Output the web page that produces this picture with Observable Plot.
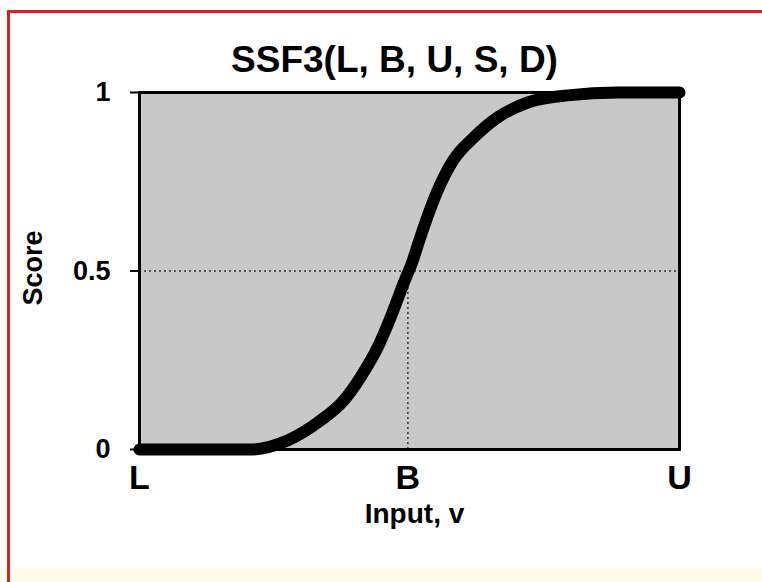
<!DOCTYPE html>
<html>
<head>
<meta charset="utf-8">
<script src="https://cdn.jsdelivr.net/npm/d3@7"></script>
<script src="https://cdn.jsdelivr.net/npm/@observablehq/plot@0.6"></script>
<style>
  html, body { margin: 0; padding: 0; background: #fff; }
  #wrap { position: relative; width: 762px; height: 582px; overflow: hidden; background: #fff; }
  #border { position: absolute; left: 7px; top: 10px; width: 820px; height: 640px; border: 3px solid #e21b1b; box-sizing: border-box; }
  #strip { position: absolute; left: 0; right: 0; bottom: 0; height: 14px; background: #fdfbea; }
  #chart { position: absolute; left: 0; top: 0; }
</style>
</head>
<body>
<div id="wrap">
  <div id="strip"></div>
  <div id="border"></div>
  <div id="chart"></div>
</div>
<script>
// Data
const title = "SSF3(L, B, U, S, D)";
const xTitle = "Input, v";
const yTitle = "Score";
const inputV = [0, 0.206, 0.274, 0.335, 0.378, 0.409, 0.441, 0.465, 0.489, 0.506, 0.520, 0.552, 0.581, 0.619, 0.663, 0.719, 0.793, 0.885, 1];
const score  = [0, 0,     0.025, 0.081, 0.137, 0.202, 0.286, 0.370, 0.465, 0.529, 0.594, 0.725, 0.810, 0.874, 0.930, 0.972, 0.992, 1.0,   1];
const xTickValues = [0, 0.497, 1];
const xTickLabels = ["L", "B", "U"];
const yTickValues = [0, 0.5, 1];
const yTickLabels = ["0", "0.5", "1"];
const midScore = 0.5;
const bValue = 0.497;

const data = inputV.map((v, i) => ({v, s: score[i]}));
const font = "'Liberation Sans', Arial, Helvetica, sans-serif";

const chart = Plot.plot({
  width: 762,
  height: 582,
  marginLeft: 139,
  marginRight: 83,
  marginTop: 92,
  marginBottom: 133,
  style: {fontFamily: font, fontWeight: "bold", background: "transparent", color: "black"},
  x: {domain: [0, 1]},
  y: {domain: [0, 1]},
  marks: [
    Plot.frame({fill: "#c8c8c8"}),
    Plot.ruleY([midScore], {stroke: "#333", strokeWidth: 1.5, strokeDasharray: "2,3"}),
    Plot.ruleX([bValue], {y1: 0, y2: midScore, stroke: "#333", strokeWidth: 1.5, strokeDasharray: "2,3"}),
    Plot.line(data, {x: "v", y: "s", stroke: "black", strokeWidth: 12, curve: "monotone-x", strokeLinecap: "round", strokeLinejoin: "round"}),
    Plot.frame({stroke: "black", strokeWidth: 3}),
    Plot.axisX({ticks: xTickValues, tickFormat: (d, i) => xTickLabels[i], tickSize: 0, tickPadding: 15, fontSize: 34, label: null}),
    Plot.axisY({ticks: yTickValues, tickFormat: (d, i) => yTickLabels[i], tickSize: 9, tickPadding: 20, fontSize: 27, strokeWidth: 2, label: null}),
    Plot.text([title], {frameAnchor: "top", dx: -15, dy: -47, fontSize: 37, fontWeight: "bold"}),
    Plot.text([xTitle], {frameAnchor: "bottom", dx: 5, dy: 73, fontSize: 28, fontWeight: "bold"}),
    Plot.text([yTitle], {frameAnchor: "left", dx: -106, dy: -3, rotate: -90, textAnchor: "middle", fontSize: 27, fontWeight: "bold"})
  ]
});
document.getElementById("chart").appendChild(chart);
</script>
</body>
</html>
